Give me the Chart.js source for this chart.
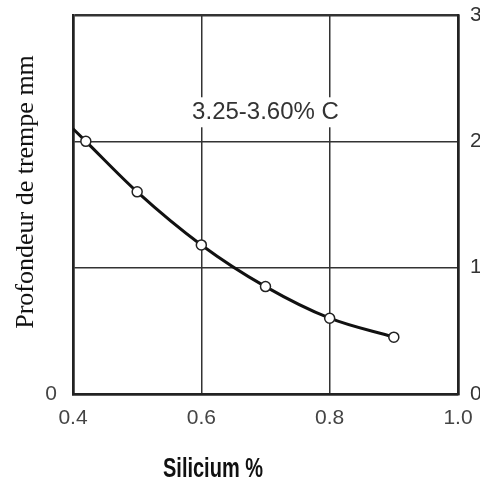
<!DOCTYPE html>
<html>
<head>
<meta charset="utf-8">
<script src="https://cdn.jsdelivr.net/npm/chart.js@4"></script>
<style>
  html, body { margin: 0; padding: 0; background: #fff; }
  #wrap { width: 480px; height: 484px; }
</style>
</head>
<body>
<div id="wrap"><canvas id="myChart" width="480" height="484"></canvas></div>
<script>
const silicon = [0.4, 0.42, 0.5, 0.6, 0.7, 0.8, 0.9]
const chillDepth = [2.1, 2.0, 1.6, 1.18, 0.85, 0.6, 0.45]
const markerSize = [0, 5, 5, 5, 5, 5, 5]
const xTicks = [0.4, 0.6, 0.8, 1.0]
const yTicks = [0, 1, 2, 3]
const curveLabel = '3.25-3.60% C'
const xTitle = 'Silicium %'
const yTitle = 'Profondeur de trempe mm'

const chart = document.getElementById('myChart')

function generatePoints(xs, ys) {
    let points = []
    for (let i = 0; i < xs.length; i++) {
        points.push({ x: xs[i], y: ys[i] })
    }
    return points
}

const tickFont = { family: 'Liberation Sans, sans-serif', size: 21 }

// titles and the curve label, drawn after the chart
const textPlugin = {
    id: 'texts',
    afterDraw(c) {
        const ctx = c.ctx
        const x = c.scales.x
        const y = c.scales.y
        ctx.save()

        // curve label with white box over grid lines
        ctx.font = '24px Liberation Sans, Arial, sans-serif'
        ctx.textAlign = 'center'
        ctx.textBaseline = 'middle'
        const lx = x.getPixelForValue(0.7)
        const ly = y.getPixelForValue(2.23)
        const w = ctx.measureText(curveLabel).width
        ctx.fillStyle = '#fff'
        ctx.fillRect(lx - w / 2 - 2, ly - 15, w + 4, 30)
        ctx.fillStyle = '#333'
        ctx.fillText(curveLabel, lx, ly)

        // y title
        ctx.font = '26px Liberation Serif, Times New Roman, serif'
        ctx.fillStyle = '#111'
        ctx.translate(26, 192)
        ctx.rotate(-Math.PI / 2)
        ctx.fillText(yTitle, 0, 0)
        ctx.restore()

        // x title, condensed to the width of the original
        ctx.save()
        ctx.font = 'bold 27px Liberation Sans, sans-serif'
        ctx.textAlign = 'center'
        ctx.textBaseline = 'middle'
        ctx.fillStyle = '#111'
        const tw = ctx.measureText(xTitle).width
        ctx.translate(213, 470)
        ctx.scale(100 / tw, 1)
        ctx.fillText(xTitle, 0, 0)
        ctx.restore()
    }
}

const lineGraph = new Chart(chart, {
    type: 'line',
    data: {
        datasets: [{
            data: generatePoints(silicon, chillDepth),
            borderColor: '#111',
            borderWidth: 3,
            tension: 0.4,
            cubicInterpolationMode: 'monotone',
            pointRadius: markerSize,
            pointBackgroundColor: '#fff',
            pointBorderColor: '#222',
            pointBorderWidth: 1.5
        }]
    },
    options: {
        responsive: false,
        animation: false,
        layout: { padding: { top: 15, left: 0, right: 0, bottom: 0 } },
        plugins: {
            legend: { display: false },
            tooltip: { enabled: false }
        },
        scales: {
            x: {
                type: 'linear',
                min: 0.4,
                max: 1.0,
                afterBuildTicks: s => { s.ticks = xTicks.map(v => ({ value: v })) },
                afterFit: s => { s.height = 90; s.paddingLeft = 0; s.paddingRight = 0 },
                grid: {
                    color: '#333',
                    lineWidth: c => (c.tick && (c.tick.value === 1.0 || c.tick.value === 0.4)) ? 2.5 : 1.5,
                    drawTicks: false
                },
                border: { display: true, color: '#222', width: 2.5 },
                ticks: {
                    color: '#444',
                    font: tickFont,
                    padding: 12,
                    maxRotation: 0,
                    callback: v => v.toFixed(1)
                }
            },
            y: {
                min: 0,
                max: 3,
                afterBuildTicks: s => { s.ticks = yTicks.map(v => ({ value: v })) },
                afterFit: s => { s.width = 73; s.paddingTop = 0; s.paddingBottom = 0 },
                grid: {
                    color: '#333',
                    lineWidth: c => (c.tick && (c.tick.value === 3 || c.tick.value === 0)) ? 2.5 : 1.5,
                    drawTicks: false
                },
                border: { display: true, color: '#222', width: 2.5 },
                ticks: {
                    color: '#444',
                    font: tickFont,
                    padding: 16,
                    callback: v => v === 0 ? '0' : ''
                }
            },
            y2: {
                position: 'right',
                min: 0,
                max: 3,
                afterBuildTicks: s => { s.ticks = yTicks.map(v => ({ value: v })) },
                afterFit: s => { s.width = 22; s.paddingTop = 0; s.paddingBottom = 0 },
                grid: { display: false, drawTicks: false },
                border: { display: true, color: '#222', width: 2.5 },
                ticks: {
                    color: '#333',
                    font: tickFont,
                    padding: 12,
                    callback: v => String(v)
                }
            }
        }
    },
    plugins: [textPlugin]
})
</script>
</body>
</html>
